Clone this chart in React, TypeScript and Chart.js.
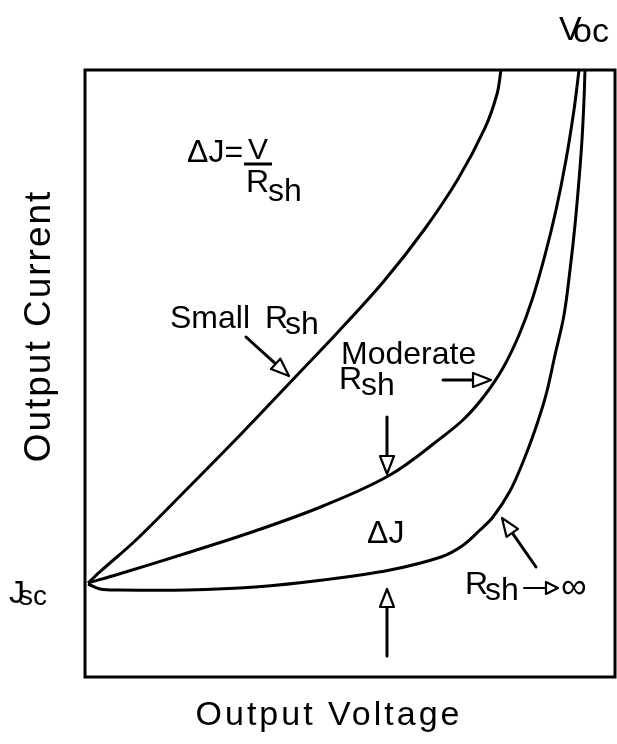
import React, { useEffect, useRef } from "react";
import { Chart, registerables } from "chart.js";

Chart.register(...registerables);

// Output voltage (x, % of full width) and output current (y, % of full height) for each curve
const smallRshVoltage = [0.57, 3.21, 9.62, 19.25, 30.0, 40.94, 47.92, 56.42, 63.96, 70.38, 75.47, 77.74, 78.49];
const smallRshCurrent = [15.49, 17.63, 22.57, 30.97, 40.53, 50.58, 57.0, 65.24, 73.64, 82.04, 90.45, 96.05, 100];

const moderateRshVoltage = [0.57, 6.42, 19.25, 32.08, 44.91, 57.55, 67.17, 71.7, 75.47, 78.87, 81.89, 84.34, 86.79, 88.87, 90.75, 92.26, 93.21];
const moderateRshCurrent = [15.49, 16.97, 20.43, 24.05, 28.17, 33.28, 39.37, 42.67, 46.46, 50.91, 56.34, 62.11, 69.52, 76.94, 85.17, 93.41, 100];

const infiniteRshVoltage = [0.57, 2.83, 6.42, 19.25, 32.08, 44.91, 57.55, 67.17, 71.13, 74.53, 76.98, 80.19, 82.64, 84.91, 86.98, 88.68, 90.38, 91.51, 92.45, 93.21, 93.77, 94.15, 94.34];
const infiniteRshCurrent = [15.32, 14.5, 14.33, 14.33, 14.83, 15.98, 17.63, 19.77, 21.58, 24.22, 26.36, 30.64, 35.42, 40.69, 46.46, 53.05, 59.64, 67.05, 74.46, 81.88, 88.47, 95.06, 100];

const xTitle = "Output Voltage";
const yTitle = "Output Current";

const FONT = '"Liberation Sans", Arial, sans-serif';

function toPoints(xs: number[], ys: number[]) {
  return xs.map((x, i) => ({ x, y: ys[i] }));
}

function arrow(
  ctx: CanvasRenderingContext2D,
  x1: number,
  y1: number,
  x2: number,
  y2: number,
  headLen = 18,
  headHalf = 7,
  shaftW = 3
) {
  const ang = Math.atan2(y2 - y1, x2 - x1);
  const bx = x2 - headLen * Math.cos(ang);
  const by = y2 - headLen * Math.sin(ang);
  ctx.save();
  ctx.strokeStyle = "#000";
  ctx.lineWidth = shaftW;
  ctx.lineCap = "round";
  ctx.beginPath();
  ctx.moveTo(x1, y1);
  ctx.lineTo(bx, by);
  ctx.stroke();
  ctx.beginPath();
  ctx.moveTo(x2, y2);
  ctx.lineTo(bx + headHalf * Math.sin(ang), by - headHalf * Math.cos(ang));
  ctx.lineTo(bx - headHalf * Math.sin(ang), by + headHalf * Math.cos(ang));
  ctx.closePath();
  ctx.fillStyle = "#fff";
  ctx.fill();
  ctx.lineWidth = 2.2;
  ctx.lineJoin = "round";
  ctx.stroke();
  ctx.restore();
}

function text(ctx: CanvasRenderingContext2D, s: string, x: number, y: number, size: number, align: CanvasTextAlign = "left") {
  ctx.font = `${size}px ${FONT}`;
  ctx.textAlign = align;
  ctx.textBaseline = "alphabetic";
  ctx.fillStyle = "#000";
  ctx.fillText(s, x, y);
}

const annotationPlugin = {
  id: "annotations",
  beforeDatasetsDraw(chart: any) {
    const { ctx, chartArea } = chart;
    ctx.save();
    ctx.strokeStyle = "#000";
    ctx.lineWidth = 3;
    ctx.strokeRect(chartArea.left, chartArea.top, chartArea.right - chartArea.left, chartArea.bottom - chartArea.top);
    ctx.restore();
  },
  afterDraw(chart: any) {
    const { ctx } = chart;
    ctx.save();

    // Voc
    text(ctx, "V", 559, 40, 34);
    text(ctx, "oc", 573, 42, 34);

    // Jsc
    text(ctx, "J", 9, 603, 32);
    text(ctx, "sc", 19, 605, 28);

    // ΔJ = V / Rsh
    text(ctx, "ΔJ=", 187, 162, 32);
    text(ctx, "V", 258, 159, 30, "center");
    ctx.strokeStyle = "#000";
    ctx.lineWidth = 3;
    ctx.beginPath();
    ctx.moveTo(244, 164);
    ctx.lineTo(272, 164);
    ctx.stroke();
    text(ctx, "R", 246, 192, 32);
    text(ctx, "sh", 268, 201, 32);

    // Small Rsh
    text(ctx, "Small", 170, 328, 32);
    text(ctx, "R", 265, 328, 32);
    text(ctx, "sh", 285, 334, 32);
    arrow(ctx, 246, 337, 289, 376);

    // Moderate Rsh
    text(ctx, "Moderate", 341, 364, 32);
    text(ctx, "R", 339, 389, 32);
    text(ctx, "sh", 361, 395, 32);
    arrow(ctx, 443, 380, 491, 380);
    arrow(ctx, 387, 417, 387, 474);

    // ΔJ
    text(ctx, "ΔJ", 367, 543, 32);
    arrow(ctx, 387, 656, 387, 589);

    // Rsh -> ∞
    text(ctx, "R", 465, 594, 32);
    text(ctx, "sh", 485, 600, 32);
    arrow(ctx, 524, 588, 558, 588, 12, 6, 2);
    text(ctx, "∞", 561, 598, 36);
    arrow(ctx, 536, 567, 502, 518);

    // Axis titles
    ctx.font = `34px ${FONT}`;
    (ctx as any).letterSpacing = "3px";
    ctx.textAlign = "center";
    ctx.textBaseline = "alphabetic";
    ctx.fillText(xTitle, 329, 725);

    ctx.translate(50, 326);
    ctx.rotate(-Math.PI / 2);
    ctx.font = `37px ${FONT}`;
    (ctx as any).letterSpacing = "2px";
    ctx.fillText(yTitle, 0, 0);
    ctx.restore();
  },
};

export default function App() {
  const canvasRef = useRef<HTMLCanvasElement | null>(null);

  useEffect(() => {
    const canvas = canvasRef.current;
    if (!canvas) return;
    const lineStyle = {
      borderColor: "#000",
      borderWidth: 3,
      pointRadius: 0,
      fill: false,
      tension: 0.35,
    };
    const chart = new Chart(canvas, {
      type: "line",
      data: {
        datasets: [
          { label: "Small Rsh", data: toPoints(smallRshVoltage, smallRshCurrent), ...lineStyle },
          { label: "Moderate Rsh", data: toPoints(moderateRshVoltage, moderateRshCurrent), ...lineStyle },
          { label: "Rsh → ∞", data: toPoints(infiniteRshVoltage, infiniteRshCurrent), ...lineStyle },
        ],
      },
      options: {
        animation: false,
        responsive: false,
        devicePixelRatio: 1,
        layout: { padding: { left: 85, top: 70, right: 2, bottom: 67 } },
        scales: {
          x: { type: "linear", min: 0, max: 100, display: false },
          y: { type: "linear", min: 0, max: 100, display: false },
        },
        plugins: {
          legend: { display: false },
          tooltip: { enabled: false },
        },
      },
      plugins: [annotationPlugin],
    });
    return () => chart.destroy();
  }, []);

  return (
    <div style={{ position: "absolute", left: 0, top: 0, width: 617, height: 744, background: "#fff" }}>
      <canvas ref={canvasRef} width={617} height={744} />
    </div>
  );
}
